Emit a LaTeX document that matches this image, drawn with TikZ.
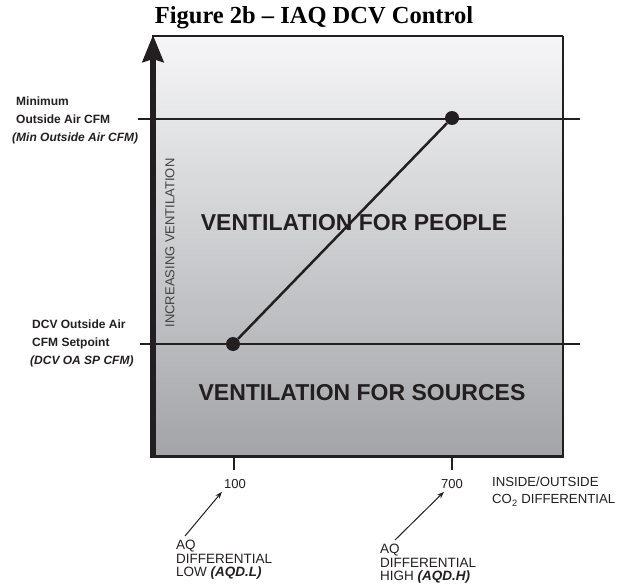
\documentclass[tikz,border=0pt]{standalone}
\usepackage{fontspec}
\setmainfont{Liberation Sans}
\newfontfamily\titlefont{Liberation Serif}
\usetikzlibrary{arrows.meta,calc}
\definecolor{ink}{HTML}{231F20}
\definecolor{boxtop}{HTML}{F6F6F8}
\definecolor{boxbot}{HTML}{A2A4A7}
\tikzset{
  lbl/.style={inner sep=0pt, text=ink, align=left},
  sidelbl/.style={lbl, font=\bfseries\fontsize{12}{18}\selectfont, anchor=west},
  zonelbl/.style={inner sep=0pt, text=ink, font=\bfseries\fontsize{23}{27}\selectfont},
  axislbl/.style={inner sep=3pt, text=ink, font=\fontsize{13}{15}\selectfont},
  aqlbl/.style={lbl, font=\fontsize{13.5}{13.5}\selectfont, anchor=north west},
  guide/.style={draw=ink, line width=1.4pt},
  dot/.style={circle, fill=ink, inner sep=0pt, minimum size=14pt},
  pointer/.style={draw=ink, line width=1pt, -{Stealth[length=7pt,width=5pt]}}
}
\begin{document}
\begin{tikzpicture}[x=1pt,y=-1pt]
\useasboundingbox (0,0) rectangle (624,586);

% title
\node[inner sep=0pt, font=\titlefont\bfseries\fontsize{24.5}{28}\selectfont] (title) at (314,18) {Figure 2b – IAQ DCV Control};

% chart area with vertical gradient
\shade[top color=boxtop, bottom color=boxbot] (152,36) rectangle (563,456);
\draw[ink, line width=1.4pt] (152,36) -- (563,36);
\draw[ink, line width=2pt] (563,36) -- (563,456);
\draw[ink, line width=3pt] (150,456) -- (564,456);

% setpoint lines
\draw[guide] (138,119) -- (580,119);
\draw[guide] (140,344) -- (580,344);

% x-axis ticks
\draw[guide] (234,456) -- (234,470);
\draw[guide] (452,456) -- (452,470);

% vertical axis with arrow
\draw[ink, line width=5.5pt, -{Stealth[length=27pt,width=21pt,inset=3pt]}] (153,458) -- (153,35);

% zone labels
\node[zonelbl] (people) at (354,223) {VENTILATION FOR PEOPLE};
\node[zonelbl] (sources) at (362,393) {VENTILATION FOR SOURCES};
\node[inner sep=0pt, text=ink!85, font=\fontsize{13}{15}\selectfont, rotate=90] (incr) at (170,243) {INCREASING VENTILATION};

% control line between the two setpoints
\node[dot] (plo) at (233,344) {};
\node[dot] (phi) at (452,118) {};
\draw[ink, line width=2.5pt] (plo) -- (phi);

% left side labels
\node[sidelbl] (minoa) at (16,120) {Minimum\\Outside Air CFM\\\hspace*{-4pt}\itshape(Min Outside Air CFM)};
\node[sidelbl] (dcvoa) at (32,343) {DCV Outside Air\\CFM Setpoint\\\hspace*{-2pt}\itshape(DCV OA SP CFM)};

% x-axis labels
\node[axislbl] (v100) at (235,484) {100};
\node[axislbl] (v700) at (452,484) {700};
\node[lbl, font=\fontsize{13.2}{17}\selectfont, anchor=north west] (xname) at (492,477) {INSIDE/OUTSIDE\\CO\textsubscript{2} DIFFERENTIAL};

% AQ differential labels with pointers
\node[aqlbl] (aqlow) at (176,540) {AQ\\DIFFERENTIAL\\LOW \textbf{\itshape(AQD.L)}};
\node[aqlbl] (aqhigh) at (380,544) {AQ\\DIFFERENTIAL\\HIGH \textbf{\itshape(AQD.H)}};
\draw[pointer] ($(aqlow.north west)+(9,-4)$) -- ($(v100.south west)+(1,0)$);
\draw[pointer] ($(aqhigh.north west)+(15,-4)$) -- ($(v700.south west)+(6,0)$);
\end{tikzpicture}
\end{document}
